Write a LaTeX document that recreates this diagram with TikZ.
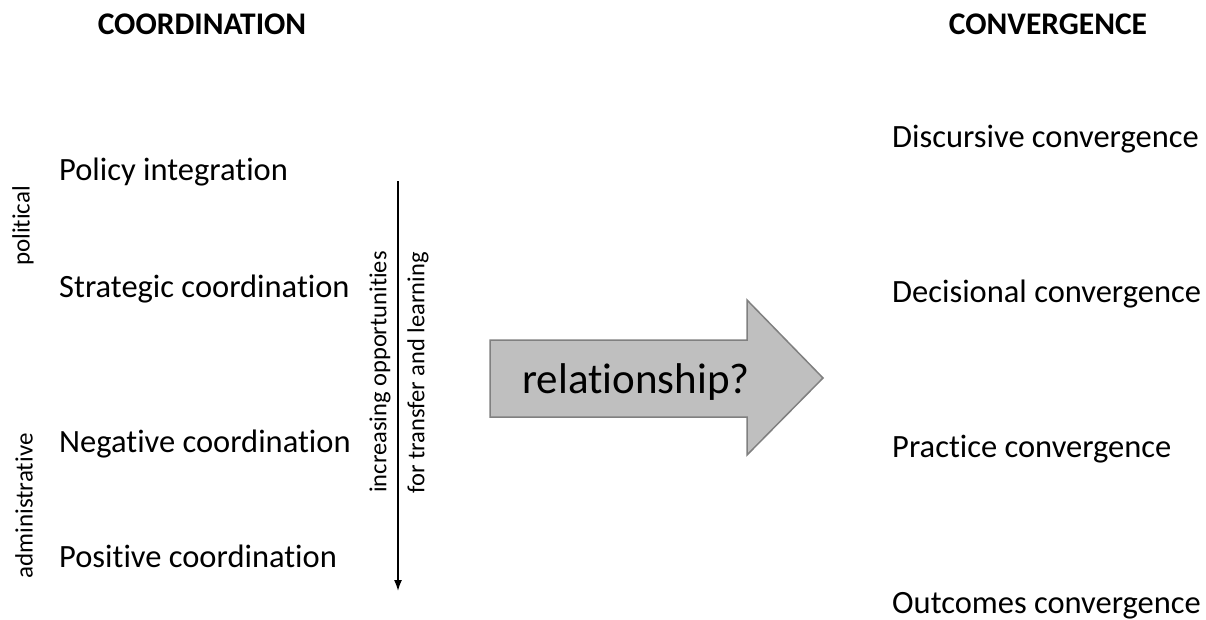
\documentclass[tikz,border=0pt]{standalone}
\usepackage{fontspec}
\setmainfont[Ligatures=NoCommon]{Carlito}
\usetikzlibrary{arrows.meta}
\begin{document}
\begin{tikzpicture}[x=1pt,y=-1pt,
  head/.style={font=\fontsize{31.5}{36}\selectfont\bfseries, inner sep=0pt, anchor=base},
  item/.style={font=\fontsize{32.5}{38}\selectfont, inner sep=0pt, anchor=base west},
  side/.style={font=\fontsize{25}{30}\selectfont, inner sep=0pt, rotate=90},
  vlab/.style={font=\fontsize{24.5}{29}\selectfont, inner sep=0pt, rotate=90},
  bigarrow/.style={fill=black!25, draw=black!50, line width=1.5pt, line join=miter}]
\useasboundingbox (0,0) rectangle (1206,619);
\node[head] (coord) at (202,34) {COORDINATION};
\node[head] (conv) at (1048,34) {CONVERGENCE};
\node[item] (pi) at (59,180) {Policy integration};
\node[item] (sc) at (59,297) {Strategic coordination};
\node[item] (nc) at (59,452) {Negative coordination};
\node[item] (pc) at (59,567) {Positive coordination};
\node[side] (pol) at (23,226) {political};
\node[side] (adm) at (24,506) {administrative};
\coordinate (atop) at (398,181);
\coordinate (abot) at (398,591);
\draw[line width=1.6pt, -{Latex[length=11pt,width=8pt]}] (atop) -- (abot);
\node[vlab] (inc) at (380,372) {increasing opportunities};
\node[vlab] (ftl) at (418,373) {for transfer and learning};
\draw[bigarrow] (490,340) -- (747,340) -- (747,300) -- (823,378) -- (747,455) -- (747,417) -- (490,417) -- cycle;
\node[font=\fontsize{43}{48}\selectfont, inner sep=0pt, anchor=base] (rel) at (636,393) {relationship?};
\node[item] (dc) at (892,147) {Discursive convergence};
\node[item] (dec) at (892,302) {Decisional convergence};
\node[item] (prc) at (892,457) {Practice convergence};
\node[item] (oc) at (892,613) {Outcomes convergence};
\end{tikzpicture}
\end{document}
